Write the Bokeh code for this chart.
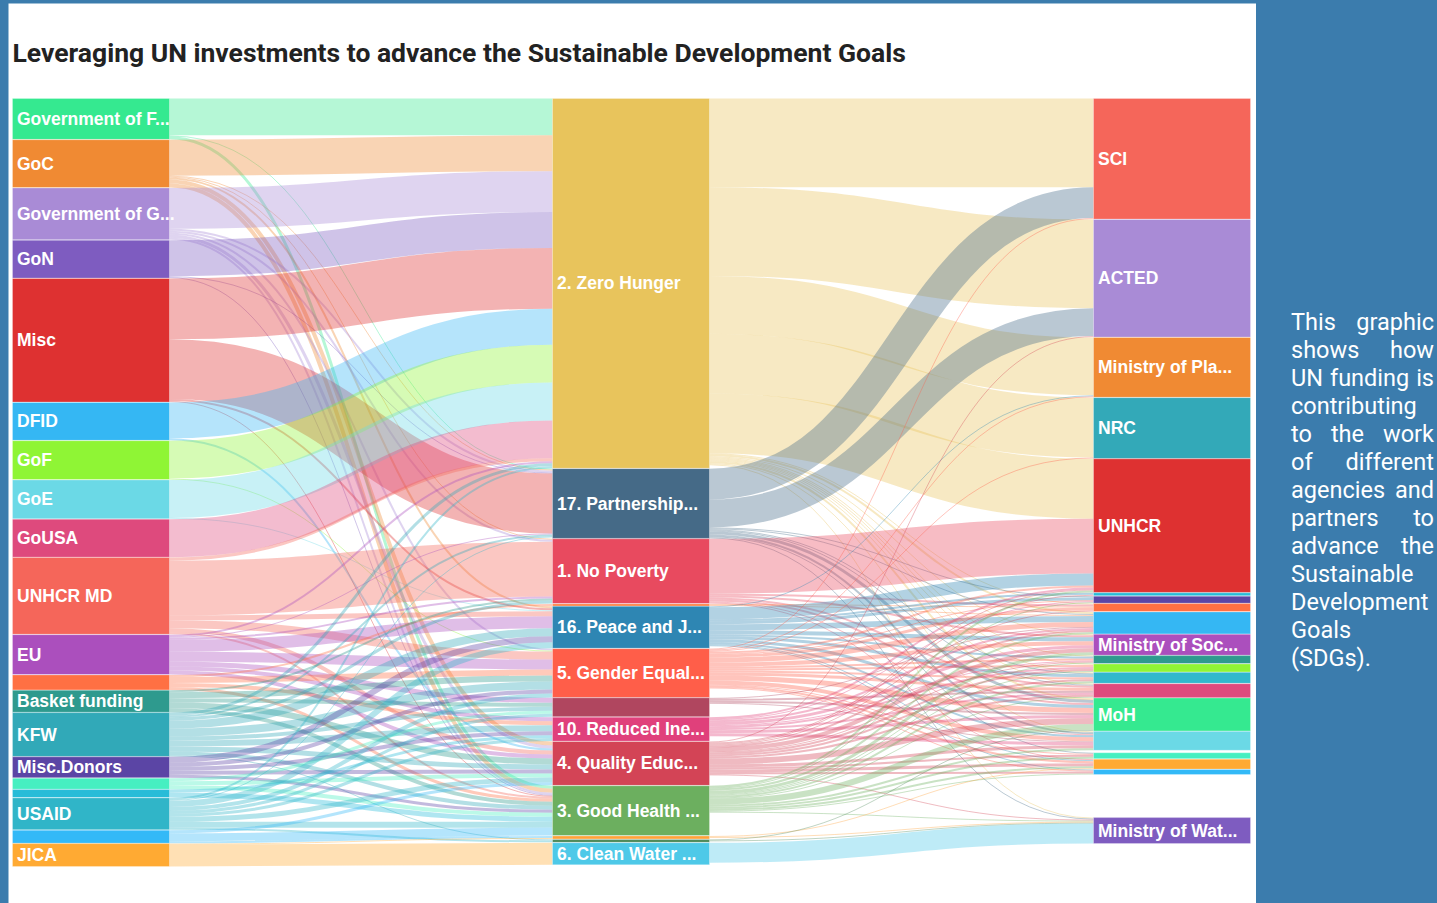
from collections import defaultdict
from bokeh.plotting import figure
from bokeh.models import Range1d, ColumnDataSource, Div
from bokeh.layouts import row
from bokeh.core.properties import value
from bokeh.embed import file_html
from bokeh.resources import INLINE

TITLE = "Leveraging UN investments to advance the Sustainable Development Goals"
NOTE = ("This graphic shows how UN funding is contributing to the work of different "
        "agencies and partners to advance the Sustainable Development Goals (SDGs).")

# ---------------- nodes ----------------
donor_ids = ["GovF", "GoC", "GovG", "GoN", "Misc", "DFID", "GoF", "GoE", "GoUSA", "UNHCR MD",
             "EU", "D12", "Basket", "KFW", "MiscDonors", "D16", "D17", "USAID", "D19", "JICA"]
donor_labels = ["Government of F...", "GoC", "Government of G...", "GoN", "Misc", "DFID", "GoF",
                "GoE", "GoUSA", "UNHCR MD", "EU", "", "Basket funding", "KFW", "Misc.Donors",
                "", "", "USAID", "", "JICA"]
donor_colors = ["#35e990", "#f08a33", "#a98bd6", "#7e5cc0", "#de3131", "#35b7f3", "#8ff535",
                "#6bd9e6", "#de4a7d", "#f5665a", "#ab4fbd", "#ff7043", "#2e9a8e", "#31a9b8",
                "#5b45a5", "#46efc1", "#27bcd8", "#30b5c8", "#33b9f7", "#ffaa33"]

sdg_ids = ["ZH", "PS", "NP", "S4", "PJ", "GE", "S7", "RI", "QE", "GH", "S11", "S12", "CW"]
sdg_labels = ["2. Zero Hunger", "17. Partnership...", "1. No Poverty", "", "16. Peace and J...",
              "5. Gender Equal...", "", "10. Reduced Ine...", "4. Quality Educ...",
              "3. Good Health ...", "", "", "6. Clean Water ..."]
sdg_colors = ["#e8c45c", "#456a87", "#e84a5f", "#fd7e3e", "#2e86b3", "#ff5e49", "#b0465f",
              "#e0407b", "#d34456", "#6caf5f", "#ffa33a", "#4f8a5a", "#4ec9e8"]

partner_ids = ["SCI", "ACTED", "MinPla", "NRC", "UNHCR", "R6", "R7", "R8", "R9", "MinSoc",
               "R11", "R12", "R13", "R14", "MoH", "R16", "R17", "R18", "R19", "MinWat"]
partner_labels = ["SCI", "ACTED", "Ministry of Pla...", "NRC", "UNHCR", "", "", "", "",
                  "Ministry of Soc...", "", "", "", "", "MoH", "", "", "", "",
                  "Ministry of Wat..."]
partner_colors = ["#f5665a", "#a98bd6", "#f08a33", "#33a9b8", "#de3131", "#27bcd8", "#5b45a5",
                  "#ff7043", "#35b7f3", "#ab4fbd", "#2e9a8e", "#8ff535", "#31b8cc", "#de4a7d",
                  "#35e990", "#6bd9e6", "#46efc1", "#ffaa33", "#33b9f7", "#7e5cc0"]

# ---------------- flows: donor -> SDG ----------------
donor_flows = [
    ("GovF", "ZH", 37), ("GovF", "PS", 1), ("GovF", "GH", 3),
    ("GoC", "ZH", 36), ("GoC", "PS", 1), ("GoC", "NP", 1), ("GoC", "PJ", 2), ("GoC", "QE", 4), ("GoC", "GH", 4),
    ("GovG", "ZH", 41), ("GovG", "PS", 2), ("GovG", "NP", 2), ("GovG", "GE", 2), ("GovG", "QE", 3), ("GovG", "GH", 2),
    ("GoN", "ZH", 36), ("GoN", "PS", 1), ("GoN", "GH", 1),
    ("Misc", "ZH", 61), ("Misc", "PS", 60), ("Misc", "PJ", 2), ("Misc", "GH", 1),
    ("DFID", "ZH", 36), ("DFID", "QE", 2),
    ("GoF", "ZH", 38), ("GoF", "GE", 1),
    ("GoE", "ZH", 38), ("GoE", "PJ", 1),
    ("GoUSA", "ZH", 38),
    ("UNHCR MD", "ZH", 3), ("UNHCR MD", "NP", 55), ("UNHCR MD", "PJ", 5), ("UNHCR MD", "GE", 8),
    ("UNHCR MD", "QE", 4), ("UNHCR MD", "GH", 2),
    ("EU", "ZH", 2), ("EU", "PS", 1), ("EU", "NP", 2), ("EU", "PJ", 12), ("EU", "GE", 10), ("EU", "S7", 5),
    ("EU", "RI", 4), ("EU", "QE", 4),
    ("D12", "S4", 2), ("D12", "GE", 6), ("D12", "RI", 4), ("D12", "GH", 3),
    ("Basket", "NP", 2), ("Basket", "GE", 6), ("Basket", "S7", 4), ("Basket", "QE", 6), ("Basket", "GH", 4),
    ("KFW", "ZH", 3), ("KFW", "PS", 2), ("KFW", "NP", 3), ("KFW", "PJ", 8), ("KFW", "GE", 8), ("KFW", "S7", 4),
    ("KFW", "RI", 6), ("KFW", "QE", 5), ("KFW", "GH", 4), ("KFW", "S12", 1),
    ("MiscDonors", "PJ", 6), ("MiscDonors", "GE", 4), ("MiscDonors", "RI", 4), ("MiscDonors", "QE", 4),
    ("MiscDonors", "GH", 3),
    ("D16", "S7", 3), ("D16", "QE", 4), ("D16", "GH", 4),
    ("D17", "RI", 3), ("D17", "GH", 5),
    ("USAID", "ZH", 2), ("USAID", "PS", 1), ("USAID", "PJ", 6), ("USAID", "GE", 4), ("USAID", "S7", 3),
    ("USAID", "RI", 3), ("USAID", "QE", 5), ("USAID", "GH", 6), ("USAID", "S12", 2),
    ("D19", "QE", 3), ("D19", "GH", 8), ("D19", "S11", 2),
    ("JICA", "S11", 1), ("JICA", "CW", 22),
]

# ---------------- flows: SDG -> partner ----------------
sdg_flows = [
    ("ZH", "SCI", 89), ("ZH", "ACTED", 89), ("ZH", "MinPla", 58), ("ZH", "NRC", 60), ("ZH", "UNHCR", 60),
    ("ZH", "R9", 2), ("ZH", "MinSoc", 1), ("ZH", "MoH", 2), ("ZH", "R16", 1), ("ZH", "R14", 1),
    ("ZH", "MinWat", 1), ("ZH", "R13", 1), ("ZH", "R8", 1), ("ZH", "R11", 1), ("ZH", "R12", 1),
    ("PS", "SCI", 31), ("PS", "ACTED", 28), ("PS", "MoH", 3), ("PS", "R16", 2), ("PS", "R7", 1),
    ("PS", "R9", 1), ("PS", "MinWat", 1), ("PS", "R14", 1), ("PS", "R13", 1), ("PS", "R17", 1),
    ("NP", "UNHCR", 55), ("NP", "R8", 2), ("NP", "MinSoc", 2), ("NP", "R14", 2), ("NP", "MoH", 2),
    ("NP", "R16", 1), ("NP", "R18", 1),
    ("S4", "R8", 1), ("S4", "R9", 1),
    ("PJ", "UNHCR", 12), ("PJ", "MinPla", 1), ("PJ", "R6", 2), ("PJ", "R7", 3), ("PJ", "R9", 6),
    ("PJ", "MinSoc", 4), ("PJ", "R11", 2), ("PJ", "R13", 3), ("PJ", "MoH", 3), ("PJ", "R16", 2),
    ("PJ", "R18", 1), ("PJ", "R19", 1),
    ("GE", "SCI", 1), ("GE", "MinPla", 1), ("GE", "NRC", 1), ("GE", "UNHCR", 2), ("GE", "R7", 1),
    ("GE", "R8", 3), ("GE", "R9", 5), ("GE", "MinSoc", 4), ("GE", "R11", 2), ("GE", "R12", 2),
    ("GE", "R13", 2), ("GE", "R14", 3), ("GE", "MoH", 5), ("GE", "R16", 4), ("GE", "R17", 1),
    ("GE", "R18", 2), ("GE", "R19", 1),
    ("S7", "R9", 1), ("S7", "R14", 2), ("S7", "MoH", 2), ("S7", "R16", 1),
    ("RI", "UNHCR", 2), ("RI", "R7", 1), ("RI", "R9", 2), ("RI", "MinSoc", 3), ("RI", "R11", 1),
    ("RI", "R12", 2), ("RI", "R14", 2), ("RI", "MoH", 3), ("RI", "R16", 3),
    ("QE", "ACTED", 1), ("QE", "UNHCR", 1), ("QE", "R6", 1), ("QE", "R8", 1), ("QE", "R9", 2),
    ("QE", "MinSoc", 4), ("QE", "R11", 1), ("QE", "R12", 2), ("QE", "R13", 2), ("QE", "R14", 2),
    ("QE", "MoH", 6), ("QE", "R16", 3), ("QE", "R17", 2), ("QE", "R18", 3), ("QE", "R19", 2),
    ("QE", "MinWat", 1),
    ("GH", "UNHCR", 2), ("GH", "R7", 1), ("GH", "R9", 2), ("GH", "MinSoc", 3), ("GH", "R11", 1),
    ("GH", "R12", 1), ("GH", "R13", 2), ("GH", "R14", 1), ("GH", "MoH", 6), ("GH", "R16", 2),
    ("GH", "R17", 2), ("GH", "R18", 2), ("GH", "R19", 1), ("GH", "MinWat", 1),
    ("S11", "R18", 1), ("S11", "MinWat", 1),
    ("S12", "MoH", 1), ("S12", "MinWat", 1),
    ("CW", "MinWat", 20),
]

# ---------------- sankey layout ----------------
W, H = 1248, 900
TOP, BOT = 95, 863
XCOL = [4, 544, 1085]
NODE_W = 157
PAD = 0.4
LINK_ALPHA = 0.37

columns = [donor_ids, sdg_ids, partner_ids]
links = donor_flows + sdg_flows
col_of = {}
for ci, c in enumerate(columns):
    for n in c:
        col_of[n] = ci
vin, vout = defaultdict(float), defaultdict(float)
for s, t, v in links:
    vout[s] += v
    vin[t] += v
val = {n: max(vin[n], vout[n]) for c in columns for n in c}
k = min((BOT - TOP - PAD * (len(c) - 1)) / sum(val[n] for n in c) for c in columns)

y0 = {}
for c in columns:
    y = TOP
    for n in c:
        y0[n] = y
        y += val[n] * k + PAD
stacked = {n: y0[n] for n in partner_ids}

sy, ty = {}, {}


def compute_slots():
    for c in columns:
        for n in c:
            outs = sorted([i for i, l in enumerate(links) if l[0] == n], key=lambda i: y0[links[i][1]])
            y = y0[n]
            for i in outs:
                w = links[i][2] * k
                sy[i] = y + w / 2
                y += w
            ins = sorted([i for i, l in enumerate(links) if l[1] == n], key=lambda i: y0[links[i][0]])
            y = y0[n]
            for i in ins:
                w = links[i][2] * k
                ty[i] = y + w / 2
                y += w


def relax_last_column():
    # nodes start stacked from the top; from the bottom up, each node may slide
    # down into free space toward the level of its largest incoming flow
    lim = BOT
    for n in reversed(partner_ids):
        h = val[n] * k
        ins = [i for i, l in enumerate(links) if l[1] == n]
        big = max(ins, key=lambda i: links[i][2])
        ideal = sy[big] - (ty[big] - y0[n])
        base = stacked[n]
        top = base + 0.7 * max(0.0, ideal - base)
        top = min(top, lim - h)
        y0[n] = max(top, base)
        lim = y0[n] - PAD


compute_slots()
for _ in range(2):
    relax_last_column()
    compute_slots()

color_of = {}
label_of = {}
for ids, labs, cols in [(donor_ids, donor_labels, donor_colors), (sdg_ids, sdg_labels, sdg_colors),
                        (partner_ids, partner_labels, partner_colors)]:
    for n, lab, col in zip(ids, labs, cols):
        color_of[n] = col
        label_of[n] = lab

# link geometry
lk = dict(x0=[], y0=[], x1=[], y1=[], cx0=[], cy0=[], cx1=[], cy1=[], w=[], color=[])
for i, (s, t, v) in enumerate(links):
    xa = XCOL[col_of[s]] + NODE_W
    xb = XCOL[col_of[t]]
    xm = (xa + xb) / 2
    lk["x0"].append(xa); lk["y0"].append(sy[i])
    lk["x1"].append(xb); lk["y1"].append(ty[i])
    lk["cx0"].append(xm); lk["cy0"].append(sy[i])
    lk["cx1"].append(xm); lk["cy1"].append(ty[i])
    lk["w"].append(v * k)
    lk["color"].append(color_of[s])

nd = dict(left=[], right=[], top=[], bottom=[], color=[], lx=[], ly=[], label=[])
for ci, c in enumerate(columns):
    for n in c:
        h = val[n] * k
        nd["left"].append(XCOL[ci]); nd["right"].append(XCOL[ci] + NODE_W)
        nd["top"].append(y0[n]); nd["bottom"].append(y0[n] + h)
        nd["color"].append(color_of[n])
        nd["lx"].append(XCOL[ci] + 4.5); nd["ly"].append(y0[n] + h / 2)
        nd["label"].append(label_of[n])

p = figure(width=W, height=H, x_range=Range1d(0, W), y_range=Range1d(H, 0),
           output_backend="svg", toolbar_location=None, x_axis_type=None, y_axis_type=None,
           min_border=0)
p.min_border_left = p.min_border_right = p.min_border_top = p.min_border_bottom = 0
p.outline_line_color = None
p.background_fill_color = "white"
p.border_fill_color = "white"

p.bezier(x0="x0", y0="y0", x1="x1", y1="y1", cx0="cx0", cy0="cy0", cx1="cx1", cy1="cy1",
         line_color="color", line_width="w", line_alpha=LINK_ALPHA, source=ColumnDataSource(lk))
ns = ColumnDataSource(nd)
p.quad(left="left", right="right", top="top", bottom="bottom", fill_color="color",
       line_color="white", line_width=0.5, line_alpha=0.5, source=ns)
p.text(x="lx", y="ly", text="label", source=ns, text_font=value("Liberation Sans"),
       text_font_style="bold", text_font_size="17.5px", text_color="white", text_baseline="middle")
p.text(x=[4], y=[49], text=[TITLE], text_font=value("Roboto"), text_font_style="bold",
       text_font_size="26.5px", text_color="#222222", text_baseline="middle")

note = Div(text=('<div style="width:143px;margin:300px 0 0 30px;font-family:Roboto;'
                 'font-size:23.5px;line-height:28px;color:#ffffff;text-align:justify;">'
                 + NOTE + '</div>'), width=181, height=H)

layout = row(p, note)
html = file_html(layout, INLINE, title="Sankey")
html = html.replace("</head>", "<style>html,body{background:#3b7cad;}body{margin:3px 0 0 8px;}</style></head>")
open("out.html", "w").write(html)
